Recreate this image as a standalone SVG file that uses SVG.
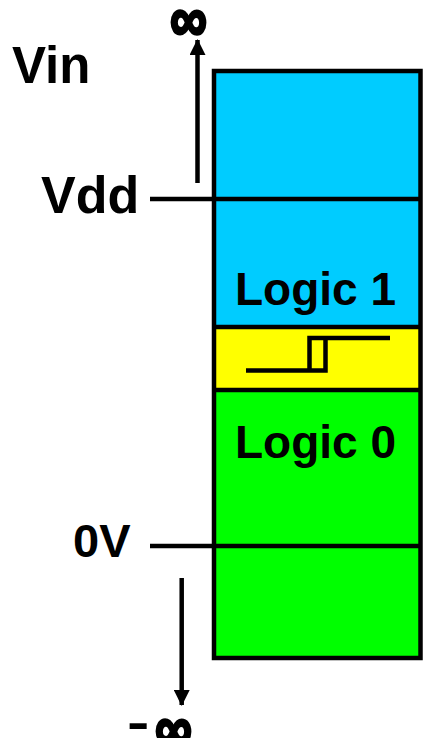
<svg xmlns="http://www.w3.org/2000/svg" width="423" height="738" viewBox="0 0 423 738">
<defs>
<style>
.lbl{font-family:"Liberation Sans",Arial,sans-serif;font-weight:bold;fill:#000}
.inf{stroke:#000;stroke-width:2.5;stroke-linejoin:round}
.ln{stroke:#000;stroke-width:4.5;fill:none}
</style>
<marker id="ah" markerUnits="userSpaceOnUse" markerWidth="16" markerHeight="16" viewBox="0 0 16 16" refX="15" refY="8" orient="auto">
<path d="M0,0 L16,8 L0,16 Z" fill="#000"/>
</marker>
</defs>
<rect width="423" height="738" fill="#fff"/>
<g id="band-logic1">
<rect x="214" y="71" width="206.5" height="256" fill="#00CCFF"/>
<text class="lbl" x="235" y="305" font-size="46">Logic 1</text>
</g>
<g id="band-transition">
<rect x="214" y="327" width="206.5" height="63" fill="#FFFF00"/>
<path class="ln" d="M246,370.5 H325.5 V338 H309.5 V370.5 M309.5,338 H390"/>
</g>
<g id="band-logic0">
<rect x="214" y="390" width="206.5" height="268" fill="#00FF00"/>
<text class="lbl" x="235" y="458" font-size="46">Logic 0</text>
</g>
<g id="box-outline">
<rect class="ln" x="214" y="71" width="206.5" height="587"/>
<line class="ln" x1="214" y1="327" x2="420.5" y2="327"/>
<line class="ln" x1="214" y1="390" x2="420.5" y2="390"/>
</g>
<g id="label-vin"><text class="lbl" x="12" y="83" font-size="51">Vin</text></g>
<g id="label-vdd"><text class="lbl" x="41" y="213" font-size="52">Vdd</text></g>
<g id="label-0v"><text class="lbl" x="73" y="557" font-size="47">0V</text></g>
<g id="label-inf"><text class="lbl inf" transform="translate(170,41) scale(1,1.23)" font-size="52">∞</text></g>
<g id="label-neginf">
<text class="lbl" transform="translate(127,739) scale(1.2,0.85)" font-size="56">-</text>
<text class="lbl inf" transform="translate(155,750) scale(1,1.23)" font-size="52">∞</text>
</g>
<g id="connectors">
<line class="ln" x1="150" y1="199" x2="420.5" y2="199"/>
<line class="ln" x1="150" y1="546" x2="420.5" y2="546"/>
<line class="ln" x1="197.5" y1="183" x2="197.5" y2="40" marker-end="url(#ah)"/>
<line class="ln" x1="181.7" y1="578" x2="181.7" y2="705" marker-end="url(#ah)"/>
</g>
</svg>
